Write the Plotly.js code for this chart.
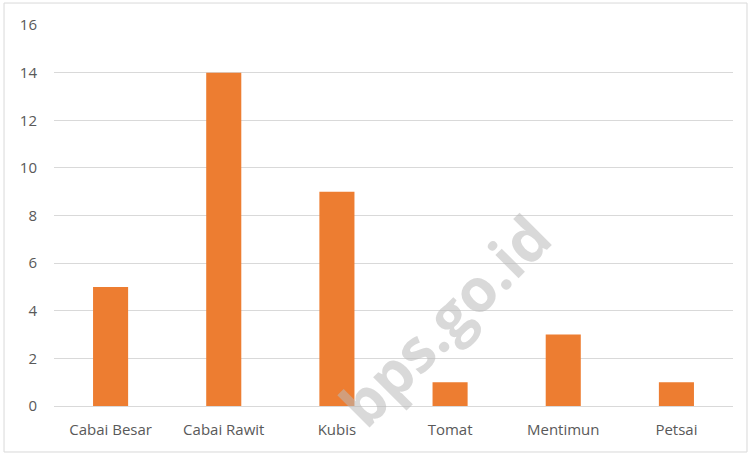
<!DOCTYPE html>
<html>
<head>
<meta charset="utf-8">
<script src="https://cdn.plot.ly/plotly-3.0.1.min.js"></script>
<style>
html,body{margin:0;padding:0;background:#fff;}
#chart{width:751px;height:455px;}
</style>
</head>
<body>
<div id="chart"></div>
<script>
const categories = ["Cabai Besar", "Cabai Rawit", "Kubis", "Tomat", "Mentimun", "Petsai"];
const values = [5, 14, 9, 1, 3, 1];
const yTicks = [0, 2, 4, 6, 8, 10, 12, 14, 16];

const trace = {
  type: "bar",
  x: categories,
  y: values,
  marker: {color: "#ED7D31"},
  hoverinfo: "x+y"
};

const layout = {
  width: 751,
  height: 455,
  margin: {l: 54, r: 18, t: 25, b: 49},
  paper_bgcolor: "#ffffff",
  plot_bgcolor: "#ffffff",
  bargap: 0.69,
  showlegend: false,
  font: {family: "Open Sans, Liberation Sans, sans-serif", size: 15, color: "#595959"},
  xaxis: {
    type: "category",
    showgrid: false,
    showline: true,
    linecolor: "#d9d9d9",
    linewidth: 1,
    ticks: "",
    ticklabelstandoff: 10,
    tickfont: {size: 15, color: "#595959"},
    fixedrange: true
  },
  yaxis: {
    range: [0, 16],
    tickvals: yTicks,
    ticktext: yTicks.map(String),
    showgrid: true,
    gridcolor: "#d9d9d9",
    gridwidth: 1,
    zeroline: false,
    showline: false,
    ticks: "",
    ticklabelstandoff: 16,
    tickfont: {size: 15, color: "#595959"},
    fixedrange: true
  },
  shapes: [{
    type: "rect",
    xref: "paper", yref: "paper",
    x0: -0.0736, x1: 1.0206, y0: -0.1207, y1: 1.0577,
    line: {color: "#d9d9d9", width: 1},
    fillcolor: "rgba(0,0,0,0)",
    layer: "below"
  }],
  annotations: [{
    text: "bps.go.id",
    xref: "paper", yref: "paper",
    x: 0.575, y: 0.225,
    xanchor: "center", yanchor: "middle",
    showarrow: false,
    textangle: -45,
    font: {family: "Open Sans, sans-serif", size: 60, color: "rgba(185,185,185,0.55)", weight: 700}
  }]
};

Plotly.newPlot("chart", [trace], layout, {displayModeBar: false, staticPlot: true});
</script>
</body>
</html>
